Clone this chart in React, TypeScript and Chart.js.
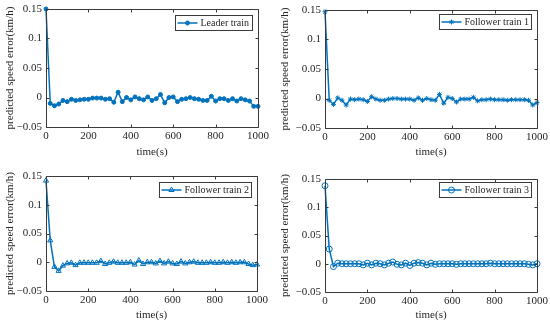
import { useEffect, useRef } from "react";
import { Chart, registerables } from "chart.js";
import { drawPoint } from "chart.js/helpers";

Chart.register(...registerables);

const timeS = [
  0, 20, 40, 60, 80, 100, 120, 140, 160, 180, 200, 220, 240, 260, 280, 300, 320, 340, 360, 380,
  400, 420, 440, 460, 480, 500, 520, 540, 560, 580, 600, 620, 640, 660, 680, 700, 720, 740, 760,
  780, 800, 820, 840, 860, 880, 900, 920, 940, 960, 980, 1000,
];

const leaderTrain = [
  0.15, -0.01, -0.014, -0.011, -0.005, -0.007, -0.003, -0.005, -0.004, -0.003, -0.003, -0.001,
  -0.001, -0.001, -0.003, -0.002, -0.008, 0.009, -0.007, 0.0, -0.004, 0.001, -0.002, -0.004, 0.001,
  -0.005, -0.002, 0.005, -0.009, 0.0, 0.001, -0.007, -0.003, -0.002, 0.0, -0.002, -0.003, -0.005,
  -0.005, 0.002, -0.006, -0.002, -0.002, -0.005, -0.002, -0.006, -0.002, -0.004, -0.006, -0.015,
  -0.015,
];

const followerTrain1 = [
  0.147, -0.003, -0.01, 0.001, -0.003, -0.011, -0.001, -0.002, -0.001, -0.002, -0.005, 0.003,
  -0.001, -0.003, -0.003, -0.001, 0.0, 0.0, -0.001, -0.001, -0.001, -0.003, 0.001, -0.003, 0.0,
  -0.002, -0.003, 0.007, -0.008, 0.002, 0.0, -0.006, -0.001, -0.001, -0.001, 0.002, -0.004, -0.002,
  -0.002, -0.001, -0.002, -0.002, -0.002, -0.003, -0.002, -0.002, -0.002, -0.002, -0.003, -0.011,
  -0.007,
];

const followerTrain2 = [
  0.142, 0.038, -0.008, -0.015, -0.006, -0.002, -0.001, -0.005, -0.001, -0.001, -0.001, -0.001,
  -0.001, 0.002, -0.003, -0.001, 0.001, -0.001, -0.001, -0.001, 0.0, -0.004, 0.003, -0.003, 0.0,
  0.0, -0.002, 0.002, -0.002, 0.001, -0.002, -0.003, 0.001, -0.002, 0.0, 0.001, -0.001, -0.001,
  -0.001, 0.0, -0.001, -0.001, 0.0, -0.001, 0.0, -0.001, 0.0, 0.0, -0.003, -0.005, -0.004,
];

const followerTrain3 = [
  0.138, 0.026, -0.005, 0.001, 0.0, 0.0, 0.0, 0.0, 0.0, -0.002, 0.001, -0.002, 0.001, 0.0, -0.002,
  0.001, 0.003, -0.001, -0.002, 0.001, -0.003, 0.001, 0.002, 0.001, -0.002, 0.001, -0.001, 0.0, 0.0,
  0.0, 0.0, -0.001, 0.0, 0.0, 0.0, 0.0, 0.0, 0.0, 0.0, 0.001, 0.0, 0.0, 0.0, 0.0, 0.0, 0.0, 0.0, 0.0,
  -0.001, -0.002, 0.0,
];

const seriesLabels = ["Leader train", "Follower train 1", "Follower train 2", "Follower train 3"];
const xTicks = [0, 200, 400, 600, 800, 1000];
const yTicks = [-0.05, 0, 0.05, 0.1, 0.15];
const xTitle = "time(s)";
const yTitle = "predicted speed error(km/h)";

const BLUE = "#0072BD";
const AXIS = "#262626";
const BOX = "#3a3a3a";
const FONT = "'Liberation Serif', 'Times New Roman', serif";
const W = 275;
const H = 163;

type Area = { l: number; r: number; t: number; b: number };
type PanelProps = {
  label: string;
  values: number[];
  pointStyle: string;
  radius: number;
  filled: boolean;
  x: number;
  y: number;
  area: Area;
  legendTop: number;
};

function fmtTick(v: number): string {
  const r = Math.round(v * 100) / 100;
  const s = String(Math.abs(r));
  return r < 0 ? "\u2212" + s : s;
}

function Panel(p: PanelProps) {
  const ref = useRef<HTMLCanvasElement | null>(null);
  useEffect(() => {
    if (!ref.current) return;
    const boxPlugin = {
      id: "matlabBox",
      afterDraw(chart: any) {
        const ctx = chart.ctx;
        const a = chart.chartArea;
        const xs = chart.scales.x;
        const ys = chart.scales.y;
        const L = Math.round(a.left) + 0.5;
        const R = Math.round(a.right) + 0.5;
        const T = Math.round(a.top) + 0.5;
        const B = Math.round(a.bottom) + 0.5;
        ctx.save();
        ctx.strokeStyle = BOX;
        ctx.lineWidth = 1;
        ctx.beginPath();
        ctx.rect(L, T, R - L, B - T);
        ctx.stroke();
        const tl = 3;
        ctx.beginPath();
        for (const v of xTicks) {
          const px = Math.round(xs.getPixelForValue(v)) + 0.5;
          ctx.moveTo(px, B);
          ctx.lineTo(px, B - tl);
          ctx.moveTo(px, T);
          ctx.lineTo(px, T + tl);
        }
        for (const v of yTicks) {
          const py = Math.round(ys.getPixelForValue(v)) + 0.5;
          ctx.moveTo(L, py);
          ctx.lineTo(L + tl, py);
          ctx.moveTo(R, py);
          ctx.lineTo(R - tl, py);
        }
        ctx.stroke();

        // legend
        ctx.font = "10px " + FONT;
        const tw = ctx.measureText(p.label).width;
        const bw = Math.round(tw + 28);
        const bh = 15;
        const bx = Math.round(a.right) - 6 - bw + 0.5;
        const by = p.legendTop + 0.5;
        ctx.fillStyle = "#ffffff";
        ctx.fillRect(bx, by, bw, bh);
        ctx.strokeStyle = BOX;
        ctx.strokeRect(bx, by, bw, bh);
        const my = by + bh / 2;
        ctx.strokeStyle = BLUE;
        ctx.lineWidth = 1.5;
        ctx.beginPath();
        ctx.moveTo(bx + 2, my);
        ctx.lineTo(bx + 22, my);
        ctx.stroke();
        ctx.fillStyle = p.filled ? BLUE : "rgba(0,0,0,0)";
        ctx.strokeStyle = BLUE;
        ctx.lineWidth = 1;
        drawPoint(
          ctx,
          { pointStyle: p.pointStyle as any, radius: p.radius, borderWidth: 1, rotation: 0 } as any,
          bx + 12,
          my
        );
        ctx.fillStyle = AXIS;
        ctx.textBaseline = "middle";
        ctx.textAlign = "left";
        ctx.fillText(p.label, bx + 25, my + 0.5);
        ctx.restore();
      },
    };

    const chart = new Chart(ref.current, {
      type: "line",
      data: {
        datasets: [
          {
            label: p.label,
            data: timeS.map((t, i) => ({ x: t, y: p.values[i] })),
            borderColor: BLUE,
            borderWidth: 1.5,
            pointStyle: p.pointStyle as any,
            pointRadius: p.radius,
            pointBackgroundColor: p.filled ? BLUE : "rgba(0,0,0,0)",
            pointBorderColor: BLUE,
            pointBorderWidth: 1,
            tension: 0,
            clip: false as any,
          },
        ],
      },
      options: {
        responsive: false,
        animation: false,
        layout: { padding: { left: 0, right: W - p.area.r, top: p.area.t, bottom: 0 } },
        plugins: { legend: { display: false }, tooltip: { enabled: false } },
        scales: {
          x: {
            type: "linear",
            min: 0,
            max: 1000,
            afterBuildTicks: (s: any) => {
              s.ticks = xTicks.map((v) => ({ value: v }));
            },
            afterFit: (s: any) => {
              s.height = H - p.area.b;
              s.paddingLeft = 0;
              s.paddingRight = 0;
            },
            ticks: {
              font: { family: FONT, size: 11 },
              color: AXIS,
              padding: 3,
              maxRotation: 0,
              autoSkip: false,
              callback: (v: any) => String(Math.round(Number(v))),
            },
            grid: { display: false, drawTicks: false },
            border: { display: false },
            title: {
              display: true,
              text: xTitle,
              font: { family: FONT, size: 11 },
              color: AXIS,
              padding: { top: 0, bottom: 4 },
            },
          },
          y: {
            type: "linear",
            min: -0.05,
            max: 0.15,
            afterBuildTicks: (s: any) => {
              s.ticks = yTicks.map((v) => ({ value: v }));
            },
            afterFit: (s: any) => {
              s.width = p.area.l;
              s.paddingTop = 0;
              s.paddingBottom = 0;
            },
            ticks: {
              font: { family: FONT, size: 11 },
              color: AXIS,
              padding: 4,
              autoSkip: false,
              callback: (v: any) => fmtTick(Number(v)),
            },
            grid: { display: false, drawTicks: false },
            border: { display: false },
            title: {
              display: true,
              text: yTitle,
              font: { family: FONT, size: 11 },
              color: AXIS,
              padding: { top: 4, bottom: 0 },
            },
          },
        },
      },
      plugins: [boxPlugin],
    });
    return () => chart.destroy();
  }, []);
  return (
    <div style={{ position: "absolute", left: p.x, top: p.y, width: W, height: H }}>
      <canvas ref={ref} width={W} height={H} style={{ display: "block" }} />
    </div>
  );
}

export default function App() {
  return (
    <div
      style={{ position: "absolute", left: 0, top: 0, width: 550, height: 326, background: "#fff" }}
    >
      <Panel
        label={seriesLabels[0]}
        values={leaderTrain}
        pointStyle="circle"
        radius={2}
        filled={true}
        x={0}
        y={0}
        area={{ l: 46, r: 258, t: 9, b: 127 }}
        legendTop={15}
      />
      <Panel
        label={seriesLabels[1]}
        values={followerTrain1}
        pointStyle="star"
        radius={2.5}
        filled={false}
        x={275}
        y={0}
        area={{ l: 50, r: 262, t: 10, b: 128 }}
        legendTop={14}
      />
      <Panel
        label={seriesLabels[2]}
        values={followerTrain2}
        pointStyle="triangle"
        radius={3}
        filled={false}
        x={0}
        y={163}
        area={{ l: 46, r: 257, t: 13, b: 128 }}
        legendTop={19}
      />
      <Panel
        label={seriesLabels[3]}
        values={followerTrain3}
        pointStyle="circle"
        radius={3}
        filled={false}
        x={275}
        y={163}
        area={{ l: 50, r: 262, t: 16, b: 129 }}
        legendTop={19}
      />
    </div>
  );
}
